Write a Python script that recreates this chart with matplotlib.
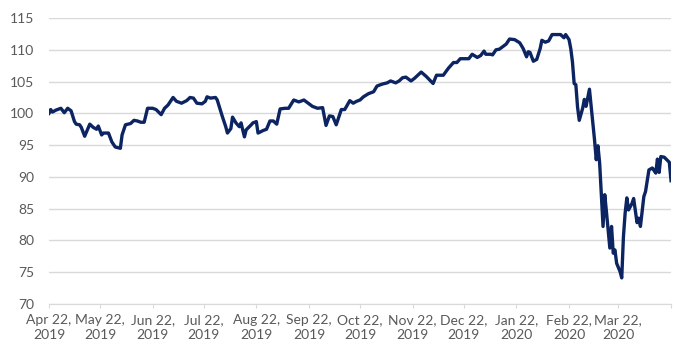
import datetime as dt
import matplotlib
matplotlib.use("Agg")
from matplotlib import pyplot as plt

start = dt.date(2019, 4, 22)
end = dt.date(2020, 4, 22)

# days after Apr 22, 2019, and index level
day = [0, 1, 2, 4, 5, 7, 9, 11, 13, 15, 16, 18, 19, 21, 24, 26, 28, 29, 31, 32,
       35, 37, 39, 42, 43, 45, 48, 50, 52, 54, 56, 58, 61, 63, 66, 68, 70, 73, 75, 78,
       81, 83, 85, 87, 90, 92, 93, 95, 98, 99, 102, 104, 105, 107, 108, 110, 112, 113, 115, 116,
       119, 120, 122, 123, 126, 128, 130, 132, 134, 136, 139, 141, 144, 147, 150, 152, 155, 158, 161, 163,
       165, 167, 169, 172, 174, 177, 179, 181, 183, 185, 188, 191, 193, 196, 199, 201, 204, 206, 208, 210,
       213, 215, 219, 222, 226, 228, 232, 235, 238, 240, 242, 245, 247, 249, 252, 254, 256, 257, 260, 261,
       263, 265, 267, 269, 271, 274, 277, 279, 281, 282, 283, 285, 287, 289, 290, 292, 294, 296, 299, 301,
       303, 304, 306, 307, 308, 309, 310, 311, 312, 314, 315, 316, 318, 319, 320, 321, 322, 323, 324, 326,
       327, 328, 330, 331, 332, 333, 334, 336, 337, 338, 339, 340, 341, 343, 344, 346, 347, 348, 350, 351,
       353, 355, 357, 358, 359, 360, 362, 365, 366]
level = [100.0, 100.6, 100.2, 100.5, 100.6, 100.8, 100.1, 100.8, 100.4, 98.7, 98.3, 98.2, 97.8, 96.4, 98.3, 97.8, 97.5, 98.0, 96.6, 96.9,
         96.9, 95.5, 94.7, 94.5, 96.6, 98.2, 98.4, 98.9, 98.8, 98.6, 98.6, 100.8, 100.8, 100.6, 99.8, 100.8, 101.3, 102.5, 101.9, 101.6,
         102.0, 102.5, 102.4, 101.6, 101.5, 101.9, 102.6, 102.4, 102.5, 102.1, 99.5, 97.9, 96.9, 97.6, 99.4, 98.5, 97.9, 98.5, 96.3, 97.4,
         98.2, 98.5, 98.7, 96.9, 97.3, 97.5, 98.8, 98.8, 98.3, 100.7, 100.8, 100.8, 102.1, 101.8, 102.1, 101.7, 101.1, 100.8, 100.9, 98.1,
         99.6, 99.5, 98.2, 100.6, 100.6, 102.0, 101.6, 101.9, 102.1, 102.6, 103.1, 103.4, 104.3, 104.6, 104.8, 105.1, 104.8, 105.1, 105.6, 105.7,
         105.1, 105.5, 106.5, 105.8, 104.7, 106.0, 106.0, 107.1, 108.0, 108.0, 108.6, 108.6, 108.6, 109.3, 108.8, 109.1, 109.8, 109.3, 109.3, 109.2,
         110.0, 110.1, 110.5, 110.9, 111.7, 111.6, 111.1, 110.2, 108.9, 109.7, 109.6, 108.2, 108.5, 110.2, 111.5, 111.2, 111.4, 112.4, 112.4, 112.4,
         111.9, 112.4, 111.6, 110.2, 108.1, 104.7, 104.5, 101.0, 98.9, 100.8, 102.2, 101.1, 103.8, 101.1, 98.4, 95.8, 92.7, 94.9, 92.2, 82.2,
         87.2, 84.5, 78.8, 82.2, 78.0, 78.5, 76.4, 75.1, 74.1, 80.6, 84.3, 86.7, 84.8, 85.8, 86.6, 82.8, 83.5, 82.2, 86.9, 87.7,
         91.1, 91.4, 90.6, 92.8, 90.7, 93.2, 93.1, 92.3, 89.4]

dates = [start + dt.timedelta(days=d) for d in day]
month_ticks = [dt.date(2019 + (3 + i) // 12, (3 + i) % 12 + 1, 22) for i in range(13)]
tick_labels = [f"{m:%b} 22,\n{m.year}" for m in month_ticks[:-1]] + [""]

plt.rcParams["font.family"] = ["Lato", "DejaVu Sans"]
fig = plt.figure(figsize=(6.9, 3.61), dpi=100)
ax = fig.add_axes([0.071, 0.158, 0.9015, 0.792])

ax.plot(dates, level, color="#0c2461", lw=2.4, solid_joinstyle="round", zorder=3)

ax.set_xlim(start, end)
ax.set_ylim(70, 115)
ax.set_yticks(range(70, 116, 5))
ax.set_xticks(month_ticks)
ax.set_xticklabels(tick_labels, linespacing=1.35)
ax.grid(axis="y", color="#d9d9d9", lw=1)
ax.set_axisbelow(True)
for s in ["top", "right", "left"]:
    ax.spines[s].set_visible(False)
ax.spines["bottom"].set_color("#d9d9d9")
ax.tick_params(axis="y", length=0, pad=10.5, labelsize=10, labelcolor="#595959")
ax.tick_params(axis="x", length=3, color="#d9d9d9", pad=4, labelsize=10, labelcolor="#595959")

plt.savefig("out.png", dpi=100)
plt.close()
